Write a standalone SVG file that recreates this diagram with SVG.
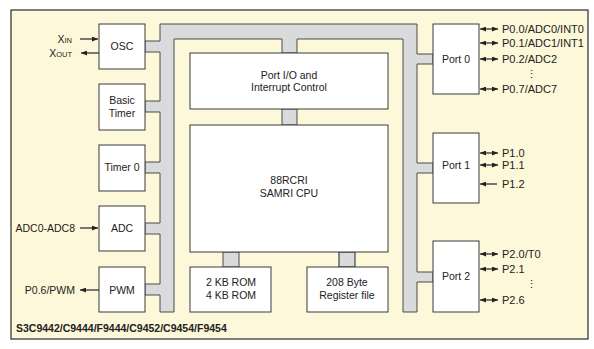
<svg xmlns="http://www.w3.org/2000/svg" width="594" height="349" viewBox="0 0 594 349">
<defs>
<marker id="ah" viewBox="0 0 10 10" refX="10" refY="5" markerWidth="6" markerHeight="5" markerUnits="userSpaceOnUse" orient="auto-start-reverse" preserveAspectRatio="none">
<path d="M0,0 L10,5 L0,10 Z" fill="#222"/>
</marker>
<style>
.box{fill:#fff;stroke:#3a3a3a;stroke-width:1}
.bus{fill:#d9dadc;stroke:#4a4a4a;stroke-width:1}
.t{font-family:"Liberation Sans",Arial,sans-serif;font-size:10.5px;fill:#222}
.p{font-size:11px}
.c{text-anchor:middle}
.ar{stroke:#222;stroke-width:1.2;fill:none}
.bi{marker-start:url(#ah);marker-end:url(#ah)}
.one{marker-end:url(#ah)}
</style>
</defs>
<rect x="11" y="10" width="577" height="329" fill="#fdf8da" stroke="#2a2a2a" stroke-width="1.2"/>
<g id="connectors">
<path class="bus" d="M160,312 V295 H145 V284 H160 V234 H145 V223 H160 V173 H145 V162 H160 V112 H145 V101 H160 V52 H145 V41 H160 V24 H417 V54 H433 V64 H417 V163 H433 V173 H417 V272 H433 V282 H417 V312 H403 V39 H297 V53 H282 V39 H174 V312 Z"/>
<rect class="bus" x="282" y="109" width="15" height="16"/>
<rect class="bus" x="223" y="252" width="16" height="15"/>
<rect class="bus" x="339" y="252" width="16" height="15" style="stroke:#222"/>
<line class="ar one" x1="80" y1="39" x2="98" y2="39"/>
<line class="ar one" x1="99" y1="53" x2="81" y2="53"/>
<line class="ar one" x1="80" y1="228" x2="98" y2="228"/>
<line class="ar one" x1="99" y1="290" x2="80" y2="290"/>
<line class="ar bi" x1="480" y1="29" x2="498" y2="29"/>
<line class="ar bi" x1="480" y1="43" x2="498" y2="43"/>
<line class="ar bi" x1="480" y1="59" x2="498" y2="59"/>
<line class="ar bi" x1="480" y1="89" x2="498" y2="89"/>
<line class="ar bi" x1="480" y1="153" x2="498" y2="153"/>
<line class="ar bi" x1="480" y1="165" x2="498" y2="165"/>
<line class="ar one" x1="497" y1="184" x2="480" y2="184"/>
<line class="ar bi" x1="480" y1="254" x2="498" y2="254"/>
<line class="ar bi" x1="480" y1="269" x2="498" y2="269"/>
<line class="ar bi" x1="480" y1="300" x2="498" y2="300"/>
</g>
<g id="osc"><rect class="box" x="99" y="24" width="46" height="45"/><text class="t c" x="122" y="50">OSC</text></g>
<g id="basic-timer"><rect class="box" x="99" y="84" width="46" height="46"/><text class="t c" x="122" y="104">Basic</text><text class="t c" x="122" y="117">Timer</text></g>
<g id="timer0"><rect class="box" x="99" y="145" width="46" height="46"/><text class="t c" x="122" y="171">Timer 0</text></g>
<g id="adc"><rect class="box" x="99" y="206" width="46" height="45"/><text class="t c" x="122" y="232">ADC</text></g>
<g id="pwm"><rect class="box" x="99" y="267" width="46" height="45"/><text class="t c" x="122" y="294">PWM</text></g>
<g id="port-io"><rect class="box" x="190" y="53" width="198" height="56"/><text class="t c" x="289" y="79">Port I/O and</text><text class="t c" x="289" y="91">Interrupt Control</text></g>
<g id="cpu"><rect class="box" x="190" y="125" width="198" height="127"/><text class="t c" x="289" y="184">88RCRI</text><text class="t c" x="289" y="197">SAMRI CPU</text></g>
<g id="rom"><rect class="box" x="190" y="267" width="81" height="45"/><text class="t c" x="231" y="286">2 KB ROM</text><text class="t c" x="231" y="299">4 KB ROM</text></g>
<g id="regfile"><rect class="box" x="307" y="267" width="81" height="45"/><text class="t c" x="347" y="286">208 Byte</text><text class="t c" x="347" y="299">Register file</text></g>
<g id="port0"><rect class="box" x="433" y="24" width="46" height="70"/><text class="t c" x="456" y="63">Port 0</text></g>
<g id="port1"><rect class="box" x="433" y="133" width="46" height="70"/><text class="t c" x="456" y="169">Port 1</text></g>
<g id="port2"><rect class="box" x="433" y="241" width="46" height="71"/><text class="t c" x="456" y="280">Port 2</text></g>
<g id="labels">
<text class="t" x="72" y="43" text-anchor="end">X<tspan font-size="7.5">IN</tspan></text>
<text class="t" x="72" y="57" text-anchor="end">X<tspan font-size="7.5">OUT</tspan></text>
<text class="t" x="75" y="232" text-anchor="end">ADC0-ADC8</text>
<text class="t" x="75" y="294" text-anchor="end">P0.6/PWM</text>
<text class="t p" x="502" y="33">P0.0/ADC0/INT0</text>
<text class="t p" x="502" y="47">P0.1/ADC1/INT1</text>
<text class="t p" x="502" y="63">P0.2/ADC2</text>
<text class="t c" x="531" y="78">⋮</text>
<text class="t p" x="502" y="93">P0.7/ADC7</text>
<text class="t p" x="502" y="157">P1.0</text>
<text class="t p" x="502" y="169">P1.1</text>
<text class="t p" x="502" y="188">P1.2</text>
<text class="t p" x="502" y="258">P2.0/T0</text>
<text class="t p" x="502" y="273">P2.1</text>
<text class="t c" x="531" y="288">⋮</text>
<text class="t p" x="502" y="304">P2.6</text>
<text class="t" x="16" y="332" font-weight="bold">S3C9442/C9444/F9444/C9452/C9454/F9454</text>
</g>
</svg>
